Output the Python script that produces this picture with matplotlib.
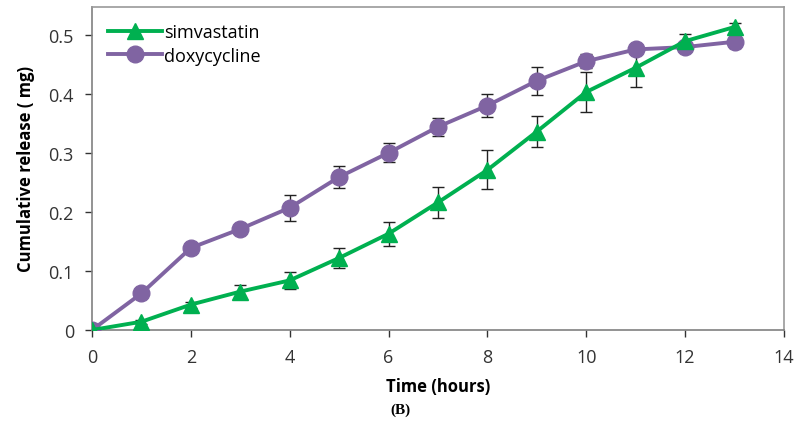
import matplotlib.pyplot as plt

hours = [0, 1, 2, 3, 4, 5, 6, 7, 8, 9, 10, 11, 12, 13]
simvastatin = [0, 0.014, 0.043, 0.065, 0.084, 0.122, 0.163, 0.216, 0.271, 0.336, 0.403, 0.444, 0.489, 0.513]
simvastatin_err = [0, 0.003, 0.005, 0.011, 0.014, 0.017, 0.020, 0.026, 0.033, 0.027, 0.034, 0.033, 0.012, 0.006]
doxycycline = [0, 0.062, 0.139, 0.171, 0.207, 0.259, 0.300, 0.344, 0.380, 0.422, 0.455, 0.475, 0.479, 0.488]
doxycycline_err = [0, 0.003, 0.004, 0.005, 0.022, 0.019, 0.016, 0.015, 0.019, 0.024, 0.012, 0.006, 0.008, 0.010]

plt.rcParams["font.family"] = ["Open Sans", "DejaVu Sans"]

fig = plt.figure(figsize=(8, 4.39), dpi=100)
ax = fig.add_axes([0.115, 0.246, 0.865, 0.736])

# error bars first, lines with markers on top
ax.errorbar(hours, simvastatin, yerr=simvastatin_err, fmt="none", ecolor="#222222",
            elinewidth=1, capsize=4, capthick=1, zorder=2)
ax.errorbar(hours, doxycycline, yerr=doxycycline_err, fmt="none", ecolor="#222222",
            elinewidth=1, capsize=4, capthick=1, zorder=2)
ax.plot(hours, doxycycline, color="#8064A2", lw=2.8, marker="o", markersize=12,
        label="doxycycline", zorder=3)
ax.plot(hours, simvastatin, color="#00B050", lw=2.8, marker="^", markersize=12,
        label="simvastatin", zorder=4)

ax.set_xlim(0, 14)
ax.set_ylim(0, 0.547)
ax.set_xticks(range(0, 15, 2))
ax.set_yticks([0, 0.1, 0.2, 0.3, 0.4, 0.5])
ax.set_yticklabels(["0", "0.1", "0.2", "0.3", "0.4", "0.5"])
ax.tick_params(labelsize=13, colors="#333333", length=5, width=1, pad=8)
for spine in ax.spines.values():
    spine.set_color("#808080")
    spine.set_linewidth(1.2)
for s in ["top", "right"]:
    ax.spines[s].set_color("#999999")

ax.set_xlabel("Time (hours)", fontsize=12, fontweight="bold", labelpad=8)
ax.set_ylabel("Cumulative release ( mg)", fontsize=12, fontweight="bold", labelpad=10)

handles, labels = ax.get_legend_handles_labels()
ax.legend(handles[::-1], labels[::-1], loc="upper left", frameon=False, fontsize=13,
          handlelength=3, handletextpad=0.1, labelspacing=0.3, borderaxespad=0.5,
          bbox_to_anchor=(0.0, 1.0))

fig.text(0.5, 0.065, "(B)", ha="center", va="center", fontsize=11,
         fontweight="bold", family="Liberation Serif")

fig.savefig("out.png", dpi=100)
